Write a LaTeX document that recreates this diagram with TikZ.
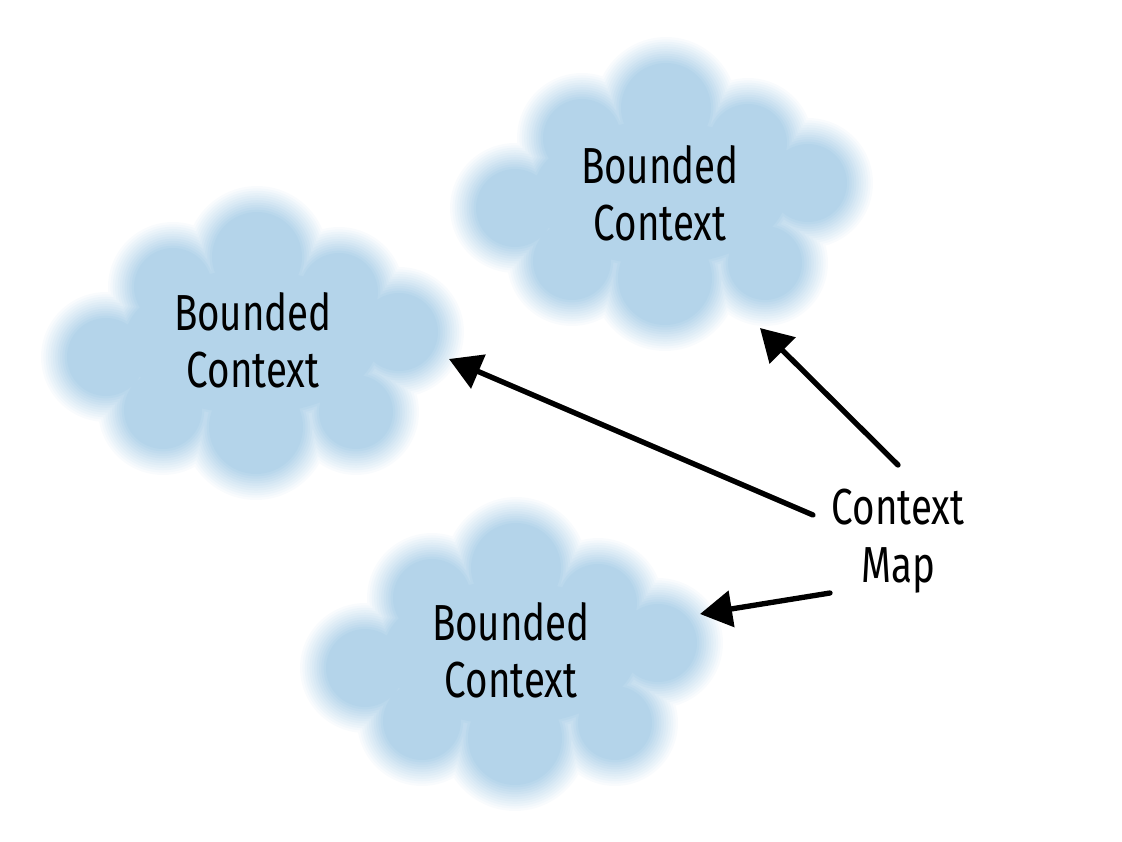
\documentclass[tikz,border=0pt]{standalone}
\usepackage{fontspec}
\newfontfamily\labelfont{Fira Sans}[FakeStretch=0.76]
\usetikzlibrary{calc,arrows.meta}
\definecolor{cloudblue}{RGB}{180,212,234}

\begin{document}
\begin{tikzpicture}[x=0.75pt, y=-0.75pt,
    bcloud/.pic={
      % soft edge: growing copies, each a bit more opaque
      \foreach \k in {1,...,12}{
        \pgfmathsetmacro\grow{13-(\k-1)*26/11}
        \pgfmathsetmacro\op{1/(13-\k)}
        \fill[cloudblue, fill opacity=\op]
          (0,0) ellipse[x radius=140+\grow, y radius=85+\grow]
          (6,-85) circle[radius=58+\grow]
          (-78,-55) circle[radius=52+\grow]
          (88,-50) circle[radius=52+\grow]
          (148,-10) circle[radius=52+\grow]
          (105,70) circle[radius=50+\grow]
          (5,85) circle[radius=60+\grow]
          (-88,68) circle[radius=52+\grow]
          (-145,15) circle[radius=52+\grow];
      }
    },
    ctx/.style={align=center, inner sep=0pt, font=\labelfont\fontsize{38}{43}\selectfont},
    arr/.style={line width=4pt, line cap=round, -{Triangle[length=24pt, width=27pt]}}]
  \useasboundingbox (0,0) rectangle (1122,842);
  % clouds
  \pic at (660,193) {bcloud};
  \pic at (251,342) {bcloud};
  \pic at (510,653) {bcloud};
  \node[ctx] (tctx) at (660,193) {Bounded\\Context};
  \node[ctx] (lctx) at (253,340) {Bounded\\Context};
  \node[ctx] (bctx) at (511,650) {Bounded\\Context};
  \node[ctx] (map) at (898,541) {Context\\Map};
  % arrows
  \draw[arr] ($(map)+(0,-76)$) -- ($(tctx)+(100,135)$);
  \draw[arr] ($(map)+(-85,-26)$) -- ($(lctx)+(196,19)$);
  \draw[arr] ($(map)+(-68,52)$) -- ($(bctx)+(189,-36)$);
\end{tikzpicture}
\end{document}
